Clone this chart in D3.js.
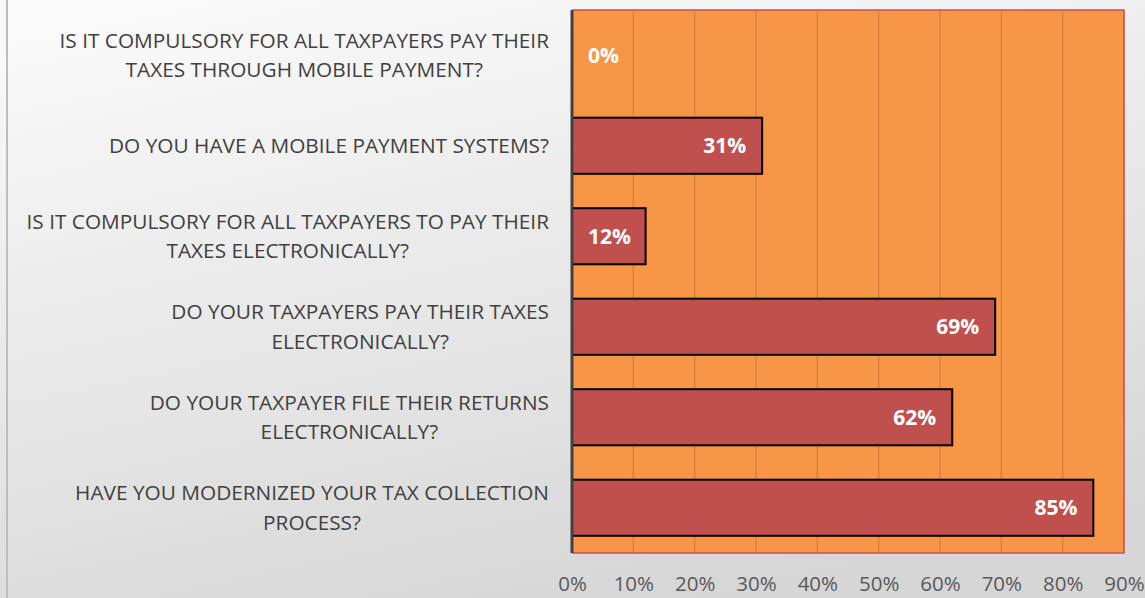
<!DOCTYPE html>
<html>
<head>
<meta charset="utf-8">
<script src="https://cdn.jsdelivr.net/npm/d3@7"></script>
<style>
  html, body { margin: 0; padding: 0; background: #ffffff; }
  svg { display: block; }
</style>
</head>
<body>
<svg id="chart" width="1145" height="598"></svg>
<script>
// Survey questions, top to bottom, each split into its display lines
const categories = [
  ["IS IT COMPULSORY FOR ALL TAXPAYERS PAY THEIR", "TAXES THROUGH MOBILE PAYMENT?"],
  ["DO YOU HAVE A MOBILE PAYMENT SYSTEMS?"],
  ["IS IT COMPULSORY FOR ALL TAXPAYERS TO PAY THEIR", "TAXES ELECTRONICALLY?"],
  ["DO YOUR TAXPAYERS PAY THEIR TAXES", "ELECTRONICALLY?"],
  ["DO YOUR TAXPAYER FILE THEIR RETURNS", "ELECTRONICALLY?"],
  ["HAVE YOU MODERNIZED YOUR TAX COLLECTION", "PROCESS?"]
];
// Share of "yes" answers, percent
const values = [0, 31, 12, 69, 62, 85];
// Horizontal axis ticks, percent
const ticks = [0, 10, 20, 30, 40, 50, 60, 70, 80, 90];

const W = 1145, H = 598;
const plot = { left: 572, right: 1124, top: 10, bottom: 553 };
const labelRight = 549;
const font = "'Open Sans', 'DejaVu Sans', sans-serif";

const svg = d3.select("#chart");

// Chart-area background: soft grey gradient
const defs = svg.append("defs");
const grad = defs.append("linearGradient")
  .attr("id", "bg").attr("x1", "0.2").attr("y1", "0").attr("x2", "0.6").attr("y2", "1");
grad.append("stop").attr("offset", "0").attr("stop-color", "#f9f9f9");
grad.append("stop").attr("offset", "1").attr("stop-color", "#d6d6d6");

svg.append("rect").attr("x", 0).attr("y", 0).attr("width", W).attr("height", H)
  .attr("fill", "url(#bg)");
svg.append("line").attr("x1", 7).attr("x2", 7).attr("y1", 0).attr("y2", H)
  .attr("stroke", "#bdbdbd").attr("stroke-width", 2);

const x = d3.scaleLinear().domain([0, 90]).range([plot.left, plot.right]);
const y = d3.scaleBand().domain(d3.range(categories.length))
  .range([plot.top, plot.bottom]).paddingInner(0.38).paddingOuter(0.19);

// Plot area
svg.append("rect")
  .attr("x", plot.left).attr("y", plot.top)
  .attr("width", plot.right - plot.left).attr("height", plot.bottom - plot.top)
  .attr("fill", "#F79646");

// Vertical gridlines
svg.append("g").selectAll("line").data(ticks.slice(1, -1)).join("line")
  .attr("x1", d => x(d)).attr("x2", d => x(d))
  .attr("y1", plot.top).attr("y2", plot.bottom)
  .attr("stroke", "#b8733a").attr("stroke-opacity", 0.5).attr("stroke-width", 1.6);

// Plot border (top, right, bottom)
svg.append("path")
  .attr("d", `M${plot.left},${plot.top}H${plot.right}V${plot.bottom}H${plot.left}`)
  .attr("fill", "none").attr("stroke", "#C9504D").attr("stroke-width", 1.6);

// Bars
svg.append("g").selectAll("rect").data(values).join("rect")
  .attr("x", x(0))
  .attr("y", (d, i) => y(i))
  .attr("width", d => x(d) - x(0))
  .attr("height", y.bandwidth())
  .attr("fill", "#C0504D")
  .attr("stroke", d => d > 0 ? "#000000" : "none")
  .attr("stroke-width", 2);

// Category axis line
svg.append("line").attr("x1", plot.left).attr("x2", plot.left)
  .attr("y1", plot.top).attr("y2", plot.bottom)
  .attr("stroke", "#404040").attr("stroke-width", 3);

// Value labels inside the bar ends
const vl = svg.append("g").selectAll("text").data(values).join("text")
  .attr("y", (d, i) => y(i) + y.bandwidth() / 2)
  .attr("dy", "0.36em")
  .attr("text-anchor", "end")
  .attr("font-family", font).attr("font-weight", 700).attr("font-size", 21)
  .attr("fill", "#ffffff")
  .text(d => d + "%");
vl.attr("x", function(d) {
  const w = this.getComputedTextLength();
  return Math.max(x(d) - 16, x(0) + 16 + w);
});

// Category labels: block right-aligned, lines centred within the block
const cg = svg.append("g");
categories.forEach((lines, i) => {
  const g = cg.append("g");
  const lh = 29.5;
  const cy = y(i) + y.bandwidth() / 2;
  const texts = lines.map((s, k) => g.append("text")
    .attr("y", cy + (k - (lines.length - 1) / 2) * lh)
    .attr("dy", "0.36em")
    .attr("text-anchor", "middle")
    .attr("font-family", font).attr("font-size", 20.8)
    .attr("fill", "#404040")
    .text(s));
  const maxW = d3.max(texts, t => t.node().getComputedTextLength());
  texts.forEach(t => t.attr("x", labelRight - maxW / 2));
});

// Value axis tick labels
const xAxis = d3.axisBottom(x).tickValues(ticks).tickFormat(d => d + "%").tickSize(0).tickPadding(0);
const ax = svg.append("g").attr("transform", `translate(0, ${plot.bottom})`).call(xAxis);
ax.select(".domain").remove();
ax.selectAll("text")
  .attr("y", 30.5).attr("dy", "0.36em")
  .attr("font-family", font).attr("font-size", 20.5)
  .attr("fill", "#595959");
</script>
</body>
</html>
